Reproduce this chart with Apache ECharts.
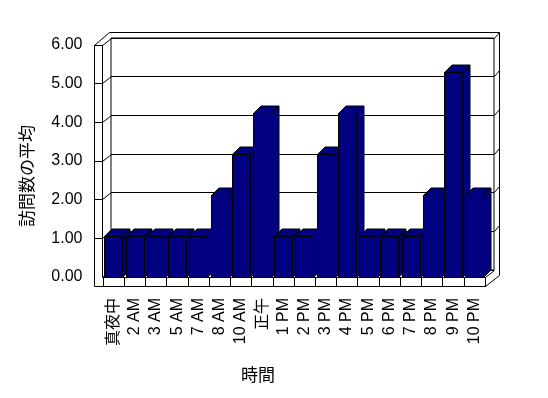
<!DOCTYPE html>
<html>
<head>
<meta charset="utf-8">
<script src="https://cdn.jsdelivr.net/npm/echarts@6/dist/echarts.min.js"></script>
<style>
  html, body { margin: 0; padding: 0; background: #fff; }
  #chart { width: 548px; height: 398px; }
</style>
</head>
<body>
<div id="chart"></div>
<script>
  // data
  const categories = ['真夜中', '2 AM', '3 AM', '5 AM', '7 AM', '8 AM', '10 AM', '正午', '1 PM', '2 PM',
    '3 PM', '4 PM', '5 PM', '6 PM', '7 PM', '8 PM', '9 PM', '10 PM']
  const visits = [1, 1, 1, 1, 1, 2, 3, 4, 1, 1, 3, 4, 1, 1, 1, 2, 5, 2]
  const yTicks = [0, 1, 2, 3, 4, 5, 6]
  const yTitle = '訪問数の平均'
  const xTitle = '時間'

  // layout (pixels) of the fake 3D box
  const W = 548, H = 398
  const FRONT = { left: 94.5, top: 45, bottom: 277 }      // plane of the value labels
  const BACK = { left: 111, right: 494, top: 38, bottom: 270 } // back wall
  const BARS = { left: 103, right: 485, top: 31, bottom: 277 }  // plane of the bars
  const WALL_IN = 102.5
  const FLOOR_BOTTOM = 286.5
  const OUTER = { top: 32.5, right: 499.5, left: 109 }
  const DEPTH = [7.5, -7.5]
  const FONT = 'Liberation Sans, "Noto Sans CJK JP", sans-serif'

  const yMax = yTicks[yTicks.length - 1]
  const frontY = v => FRONT.bottom - (FRONT.bottom - FRONT.top) * v / yMax
  const backY = v => BACK.bottom - (BACK.bottom - BACK.top) * v / yMax
  const px = n => Math.round(n - 0.5) + 0.5

  const line = (x1, y1, x2, y2) => ({
    type: 'line', z: 1,
    shape: { x1: px(x1), y1: px(y1), x2: px(x2), y2: px(y2) },
    style: { stroke: '#000', lineWidth: 1 }
  })

  let frame = [
    // left wall front face
    line(FRONT.left, FRONT.top, FRONT.left, FLOOR_BOTTOM),
    line(WALL_IN, FRONT.top, WALL_IN, FRONT.bottom),
    line(FRONT.left, FRONT.top, WALL_IN, FRONT.top),
    // left wall top and back wall top
    line(FRONT.left, FRONT.top, OUTER.left, OUTER.top),
    line(OUTER.left, OUTER.top, OUTER.right, OUTER.top),
    line(BACK.right, BACK.top, OUTER.right, OUTER.top),
    line(OUTER.right, OUTER.top, OUTER.right, 275.5),
    // floor
    line(FRONT.left, FLOOR_BOTTOM, BARS.right, FLOOR_BOTTOM),
    line(BARS.right, FRONT.bottom, BACK.right, BACK.bottom),
    line(BARS.right, FLOOR_BOTTOM, OUTER.right, 275.5)
  ]
  yTicks.forEach(v => {
    // left wall gridlines and ticks on its front face
    frame.push(line(WALL_IN, frontY(v), BACK.left, backY(v)))
    if (v > 0) frame.push(line(FRONT.left, frontY(v), WALL_IN, frontY(v)))
    // edge of the back wall on the right
    if (v > 0 && v < yMax) frame.push(line(BACK.right, backY(v), OUTER.right, backY(v) - 6))
  })

  frame.push({
    type: 'text', z: 1, x: 258, y: 376,
    style: { text: xTitle, font: '17px ' + FONT, fill: '#000', align: 'center', verticalAlign: 'middle' }
  })
  frame.push({
    type: 'text', z: 1, x: 28, y: 176, rotation: Math.PI / 2,
    style: { text: yTitle, font: '17px ' + FONT, fill: '#000', align: 'center', verticalAlign: 'middle' }
  })

  const chart = echarts.init(document.getElementById('chart'))
  const option = {
    animation: false,
    backgroundColor: '#fff',
    textStyle: { fontFamily: FONT },
    grid: [
      { left: FRONT.left, right: W - BARS.right, top: FRONT.top, bottom: H - FRONT.bottom },
      { left: BACK.left, right: W - BACK.right, top: BACK.top, bottom: H - BACK.bottom,
        show: true, borderColor: '#000', borderWidth: 1, backgroundColor: 'transparent' },
      { left: BARS.left, right: W - BARS.right, top: BARS.top, bottom: H - BARS.bottom }
    ],
    xAxis: [
      { gridIndex: 0, type: 'value', show: false },
      { gridIndex: 1, type: 'category', data: categories, show: false },
      {
        gridIndex: 2, type: 'category', data: categories,
        axisLine: { lineStyle: { color: '#000', width: 1 } },
        axisTick: { show: true, length: 10, lineStyle: { color: '#000' } },
        axisLabel: { interval: 0, rotate: 90, margin: 21, color: '#000', fontSize: 16, fontFamily: FONT }
      }
    ],
    yAxis: [
      {
        gridIndex: 0, type: 'value', min: 0, max: yMax, interval: 1,
        axisLine: { show: false }, axisTick: { show: false }, splitLine: { show: false },
        axisLabel: { margin: 12, color: '#000', fontSize: 16, fontFamily: FONT,
          formatter: v => v.toFixed(2) }
      },
      {
        gridIndex: 1, type: 'value', min: 0, max: yMax, interval: 1,
        axisLine: { show: false }, axisTick: { show: false }, axisLabel: { show: false },
        splitLine: { show: true, lineStyle: { color: '#000', width: 1, type: 'solid' } }
      },
      { gridIndex: 2, type: 'value', min: 0, max: yMax, show: false }
    ],
    graphic: frame,
    series: [
      {
        type: 'custom',
        z: 5,
        xAxisIndex: 2,
        yAxisIndex: 2,
        data: visits.map((v, i) => [i, v]),
        renderItem(params, api) {
          const top = api.coord([api.value(0), api.value(1)])
          const base = api.coord([api.value(0), 0])
          const bw = api.size([1, 0])[0]
          const x0 = px(top[0] - bw * 0.41)
          const x1 = px(x0 + bw * 0.835)
          const yt = px(top[1]), yb = px(base[1])
          const [dx, dy] = DEPTH
          const style = { fill: '#000080', stroke: '#000', lineWidth: 1 }
          return {
            type: 'group',
            children: [
              { type: 'polygon', shape: { points: [[x1, yt], [x1 + dx, yt + dy], [x1 + dx, yb + dy], [x1, yb]] }, style },
              { type: 'polygon', shape: { points: [[x0, yt], [x0 + dx, yt + dy], [x1 + dx, yt + dy], [x1, yt]] }, style },
              { type: 'rect', shape: { x: x0, y: yt, width: x1 - x0, height: yb - yt }, style }
            ]
          }
        }
      }
    ]
  }
  chart.setOption(option)
</script>
</body>
</html>
